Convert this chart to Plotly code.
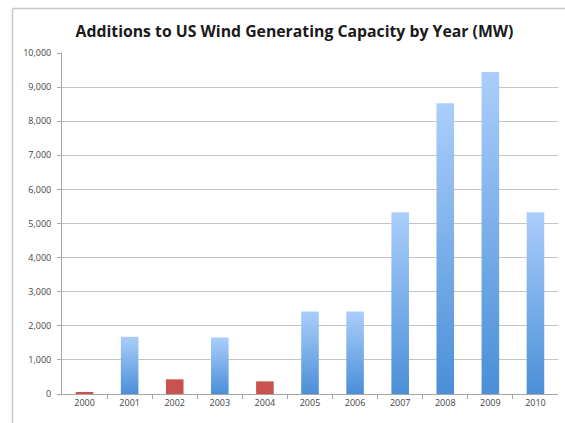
import plotly.graph_objects as go

years = [2000, 2001, 2002, 2003, 2004, 2005, 2006, 2007, 2008, 2009, 2010]
additions_mw = [60, 1680, 430, 1660, 370, 2420, 2420, 5330, 8530, 9440, 5330]
is_low_year = [True, False, True, False, True, False, False, False, False, False, False]
y_ticks = [0, 1000, 2000, 3000, 4000, 5000, 6000, 7000, 8000, 9000, 10000]
y_tick_text = ["0", "1,000", "2,000", "3,000", "4,000", "5,000", "6,000", "7,000", "8,000", "9,000", "10,000"]
title_text = "Additions to US Wind Generating Capacity by Year (MW)"

W, H = 565, 423
ML, MR, MT, MB = 62, 7, 53, 29
bar_half = 0.195

fig = go.Figure()
for yr, v, low in zip(years, additions_mw, is_low_year):
    xs = [yr - bar_half, yr + bar_half, yr + bar_half, yr - bar_half, yr - bar_half]
    ys = [0, 0, v, v, 0]
    if low:
        fig.add_trace(go.Scatter(x=xs, y=ys, mode="lines", fill="toself",
                                 fillcolor="#c9524f", line=dict(width=0),
                                 hoverinfo="skip", showlegend=False))
    else:
        fig.add_trace(go.Scatter(x=xs, y=ys, mode="lines", fill="toself",
                                 fillgradient=dict(type="vertical",
                                                   colorscale=[[0, "#4a8fd8"], [1, "#abcefb"]]),
                                 line=dict(width=0),
                                 hoverinfo="skip", showlegend=False))

pw = W - ML - MR
ph = H - MT - MB
bx = (12.5 - ML) / pw
by = 1 + (MT - 8.5) / ph
fig.add_shape(type="line", xref="paper", yref="paper", x0=bx, x1=bx, y0=-1, y1=by,
              line=dict(color="#c8c8c8", width=1.5), layer="below")
fig.add_shape(type="line", xref="paper", yref="paper", x0=bx, x1=1.2, y0=by, y1=by,
              line=dict(color="#c8c8c8", width=1.5), layer="below")

fig.update_layout(
    width=W, height=H,
    margin=dict(l=ML, r=MR, t=MT, b=MB, pad=0),
    paper_bgcolor="white", plot_bgcolor="white",
    title=dict(text=title_text, x=294.5 / W, xref="container", xanchor="center",
               y=1 - 31 / H, yanchor="middle",
               font=dict(family="Open Sans", size=15.8, color="#1a1a1a", weight="bold")),
    font=dict(family="Open Sans", size=9, color="#444444"),
    xaxis=dict(range=[1999.5, 2010.5], tickmode="array", tickvals=years,
               ticktext=[str(y) for y in years], ticks="", showgrid=False,
               showline=True, linecolor="#a6a6a6", linewidth=1, zeroline=False,
               minor=dict(tickmode="array", tickvals=[y + 0.5 for y in years[:-1]],
                          ticks="outside", ticklen=4, tickcolor="#a6a6a6", showgrid=False),
               fixedrange=True),
    yaxis=dict(range=[0, 10000], tickmode="array", tickvals=y_ticks, ticktext=y_tick_text,
               ticks="outside", ticklen=4, tickcolor="#a6a6a6",
               showgrid=True, gridcolor="#c4c4c4", gridwidth=1,
               showline=True, linecolor="#a6a6a6", linewidth=1, zeroline=False,
               ticklabelstandoff=4, fixedrange=True),
)

fig.write_html("out.html")
